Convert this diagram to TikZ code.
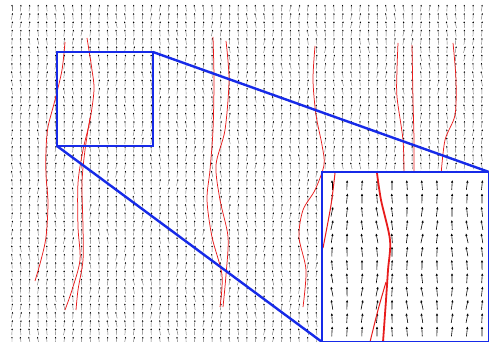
\documentclass[tikz,border=0pt]{standalone}
\usepackage{tikz}
\usetikzlibrary{arrows.meta}
\definecolor{zmblue}{RGB}{22,42,232}
\definecolor{trred}{RGB}{232,28,28}

\begin{document}
\begin{tikzpicture}[x=1pt,y=-1pt,
    fld/.style={black!55,line width=.45pt,-{Latex[length=1.6pt,width=1.6pt,black]}},
    zfld/.style={black,line width=.6pt,-{Latex[length=2.6pt,width=2.4pt]}},
    trace/.style={trred,line width=.75pt},
    zmline/.style={zmblue,line width=2.4pt}]
    \useasboundingbox (0,0) rectangle (489,342);
    \clip (0,0) rectangle (489,342);
    % vector field
    \foreach \i in {0,...,54}{\foreach \j in {0,...,40}{
      \pgfmathsetmacro\ang{9*sin(47*\i+31*\j)+5*sin(71*\j-19*\i)}
      \draw[fld] (12+8.7*\i,8+8.3*\j) ++(-90+\ang:-3.4) -- ++(-90+\ang:6.8);}}
    % traces
    \draw[trace] plot[smooth] coordinates {(65,42) (62,70) (55,100) (48,127) (46,150) (46,175) (48,203) (46,237) (41,260) (35,281)};
    \draw[trace] plot[smooth] coordinates {(87,38) (92,70) (94,90) (90,120) (83,150) (78,183) (78,227) (80,260) (72,290) (65,310)};
    \draw[trace] plot[smooth] coordinates {(90,118) (85,150) (82,183) (83,227) (83,260) (78,290) (76,310)};
    \draw[trace] plot[smooth] coordinates {(213,37) (214,80) (213,130) (210,170) (207,200) (212,237) (222,275) (220,307)};
    \draw[trace] plot[smooth] coordinates {(226,41) (229,80) (225,130) (216,165) (220,200) (228,237) (226,275) (223,307)};
    \draw[trace] plot[smooth] coordinates {(315,46) (313,80) (316,115) (322,145) (324,165) (315,190) (303,210) (299,237) (306,270) (303,307)};
    \draw[trace] plot[smooth] coordinates {(398,43) (397,70) (397,97) (403,140) (404,175)};
    \draw[trace] plot[smooth] coordinates {(412,45) (413,100) (414,140) (414,175)};
    \draw[trace] plot[smooth] coordinates {(453,43) (456,80) (455,115) (445,140) (441,175)};
    % zoom box
    \coordinate (boxtl) at (57,52);
    \coordinate (boxbr) at (153,146);
    \coordinate (boxtr) at (153,52);
    \coordinate (boxbl) at (57,146);
    \draw[zmblue,line width=1.6pt] (boxtl) rectangle (boxbr);
    % inset
    \coordinate (instl) at (322,172);
    \coordinate (instr) at (489,172);
    \coordinate (insbl) at (322,342);
    \coordinate (insbr) at (489,342);
    \fill[white] (instl) rectangle (insbr);
    \foreach \i in {0,...,10}{\foreach \j in {0,...,11}{
      \pgfmathsetmacro\ang{8*sin(53*\i+37*\j)+5*sin(29*\j-61*\i)}
      \draw[zfld] (332+15*\i,185+13.3*\j) ++(-90+\ang:-5) -- ++(-90+\ang:10);}}
    \draw[trace,line width=1pt] plot[smooth] coordinates {(335,173) (331,205) (323,248)};
    \draw[trace,line width=1.8pt] plot[smooth] coordinates {(377,173) (381,200) (390,240) (388,270) (386,300) (383,342)};
    \draw[trace,line width=1pt] plot[smooth] coordinates {(386,282) (378,310) (370,342)};
    \draw[zmline] (instl) rectangle (insbr);
    % connectors
    \draw[zmline] (boxtr) -- (instr);
    \draw[zmline] (boxbl) -- (insbl);
  \end{tikzpicture}
\end{document}
